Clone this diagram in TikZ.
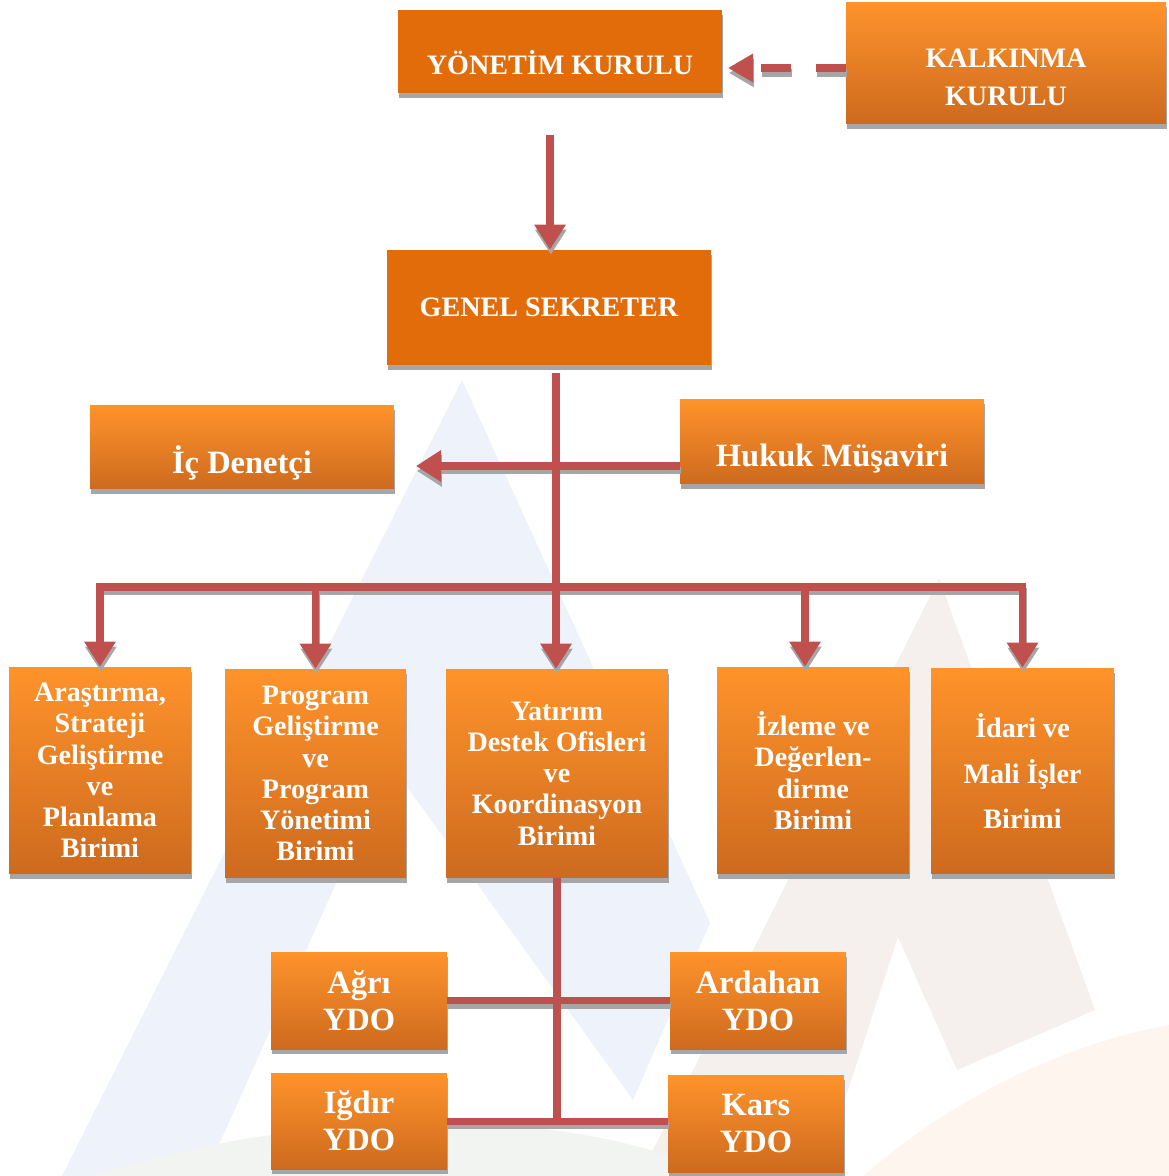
\documentclass[tikz,border=0pt]{standalone}
\usepackage{fontspec}
\setmainfont{Liberation Serif}
\usetikzlibrary{arrows.meta,shadows,positioning}

\definecolor{koyuturuncu}{RGB}{227,108,10}
\definecolor{acikturuncu}{RGB}{255,147,43}
\definecolor{kahveturuncu}{RGB}{205,106,30}
\definecolor{kirmizi}{RGB}{192,80,77}
\definecolor{golge}{RGB}{166,166,166}
\definecolor{mavi}{RGB}{238,242,250}
\definecolor{bej}{RGB}{245,240,237}
\definecolor{seftali}{RGB}{254,246,238}
\definecolor{gri}{RGB}{242,244,241}

\tikzset{
  govde/.style={inner sep=0pt, text=white, align=center,
    drop shadow={shadow xshift=0.5pt, shadow yshift=-2.8pt, fill=golge, opacity=1}},
  duzkutu/.style={govde, fill=koyuturuncu},
  renkkutu/.style={govde, top color=acikturuncu, bottom color=kahveturuncu},
  yazi/.style={text=white, align=center, inner sep=0pt},
  kucukyazi/.style={font=\bfseries\fontsize{16}{17.8}\selectfont},
  ortayazi/.style={font=\bfseries\fontsize{16}{21.3}\selectfont},
  buyukyazi/.style={font=\bfseries\fontsize{18.5}{21}\selectfont},
  hat/.style={line width=4pt},
  kesikhat/.style={hat, line width=4.5pt, dash pattern=on 0.6cm off 0.5cm,
    -{Triangle[width=0.54cm, length=0.5cm]}},
  okhat/.style={hat, -{Triangle[width=0.6cm, length=0.5cm]}},
  ikiokhat/.style={hat, {Triangle[width=0.6cm, length=0.5cm]}-{Triangle[width=0.6cm, length=0.5cm]}}
}

\begin{document}
\begin{tikzpicture}[x=0.02cm, y=-0.02cm]
\useasboundingbox (0,0) rectangle (1169,1176);

%filigran
    \fill[mavi] (462,380) -- (710,923) -- (633,1100) -- (390,763)
        -- (205,1176) -- (62,1176) -- cycle;
    \fill[bej] (939,578) -- (1095,1010) -- (957,1070) -- (898,937)
        -- (820,1176) -- (640,1176) -- cycle;
    \fill[seftali] (863,1176) .. controls (950,1100) and (1060,1045) .. (1169,1025)
        -- (1169,1176) -- cycle;
    \fill[gri] (90,1176) .. controls (300,1110) and (560,1100) .. (720,1176) -- cycle;

%kurullar
    \node[duzkutu, minimum width=6.48cm, minimum height=1.66cm] (yk) at (560,51.5) {};
    \node[yazi, ortayazi, anchor=base] (yk-yazi) at (560,75) {YÖNETİM KURULU};

    \node[renkkutu, minimum width=6.4cm, minimum height=2.44cm] (kk) at (1006,63) {};
    \node[yazi, ortayazi] (kk-yazi) at (1006,77.5) {KALKINMA\\KURULU};

    \node[duzkutu, ortayazi, minimum width=6.48cm, minimum height=2.3cm] (gs) at (549,307.5)
        {GENEL SEKRETER};

%danismanlar
    \node[renkkutu, minimum width=6.08cm, minimum height=1.68cm] (id) at (242,447) {};
    \node[yazi, buyukyazi, anchor=base] (id-yazi) at (242,473) {İç Denetçi};

    \node[renkkutu, minimum width=6.08cm, minimum height=1.7cm] (hm) at (832,441.5) {};
    \node[yazi, buyukyazi, anchor=base] (hm-yazi) at (832,466) {Hukuk Müşaviri};

%birimler
    \node[renkkutu, kucukyazi, minimum width=3.64cm, minimum height=4.14cm] (b1) at (100,770.5)
        {Araştırma,\\Strateji\\Geliştirme\\ve\\Planlama\\Birimi};
    \node[renkkutu, kucukyazi, minimum width=3.62cm, minimum height=4.18cm] (b2) at (315.5,773.5)
        {Program\\Geliştirme\\ve\\Program\\Yönetimi\\Birimi};
    \node[renkkutu, kucukyazi, minimum width=4.44cm, minimum height=4.18cm] (b3) at (557,773.5)
        {Yatırım\\Destek Ofisleri\\ve\\Koordinasyon\\Birimi};
    \node[renkkutu, kucukyazi, minimum width=3.84cm, minimum height=4.14cm] (b4) at (813,770.5)
        {İzleme ve\\Değerlen-\\dirme\\Birimi};
    \node[renkkutu, kucukyazi, minimum width=3.66cm, minimum height=4.12cm] (b5) at (1022.5,771)
        {İdari ve\\[8pt]Mali İşler\\[8pt]Birimi};

%ydo
    \node[renkkutu, buyukyazi, minimum width=3.52cm, minimum height=1.94cm] (y1) at (359,1000.5)
        {Ağrı\\YDO};
    \node[renkkutu, buyukyazi, minimum width=3.52cm, minimum height=1.94cm] (y2) at (758,1000.5)
        {Ardahan\\YDO};
    \node[renkkutu, buyukyazi, minimum width=3.52cm, minimum height=1.92cm] (y3) at (359,1121)
        {Iğdır\\YDO};
    \node[renkkutu, buyukyazi, minimum width=3.52cm, minimum height=1.94cm] (y4) at (756,1123.5)
        {Kars\\YDO};

%oklar (once golge, sonra kirmizi)
    \coordinate (yk-giris) at (728,68);
    \coordinate (yk-cikis) at (550,135);
    \coordinate (id-giris) at (416,466);
    \coordinate (gs-cikis) at (556,373);
    \coordinate (dal) at (556,587);

    \foreach \renk/\kx/\ky in {golge/0.5pt/-2.8pt, kirmizi/0pt/0pt}{
    \begin{scope}[transform canvas={shift={(\kx,\ky)}}, draw=\renk]
        \draw[kesikhat] (kk.west |- yk-giris) -- (yk-giris);
        \draw[okhat] (yk-cikis) -- (gs.north -| yk-cikis);
        \draw[okhat] (hm.west |- id-giris) -- (id-giris);

        \draw[okhat] (gs-cikis) -- (b3.north -| gs-cikis);
        \draw[ikiokhat] (b1.north) -- (b1.north |- dal) -- (b5.north |- dal) -- (b5.north);
        \draw[okhat] (b2.north |- dal) -- (b2.north);
        \draw[okhat] ([xshift=-0.16cm]b4.north |- dal) -- ([xshift=-0.16cm]b4.north);

        %alt hatlar
        \draw[hat] (b3.south) -- (b3.south |- y3.east);
        \draw[hat] (y1.east) -- (y2.west);
        \draw[hat] (y3.east) -- (y4.west |- y3.east);
    \end{scope}
    }
\end{tikzpicture}
\end{document}
